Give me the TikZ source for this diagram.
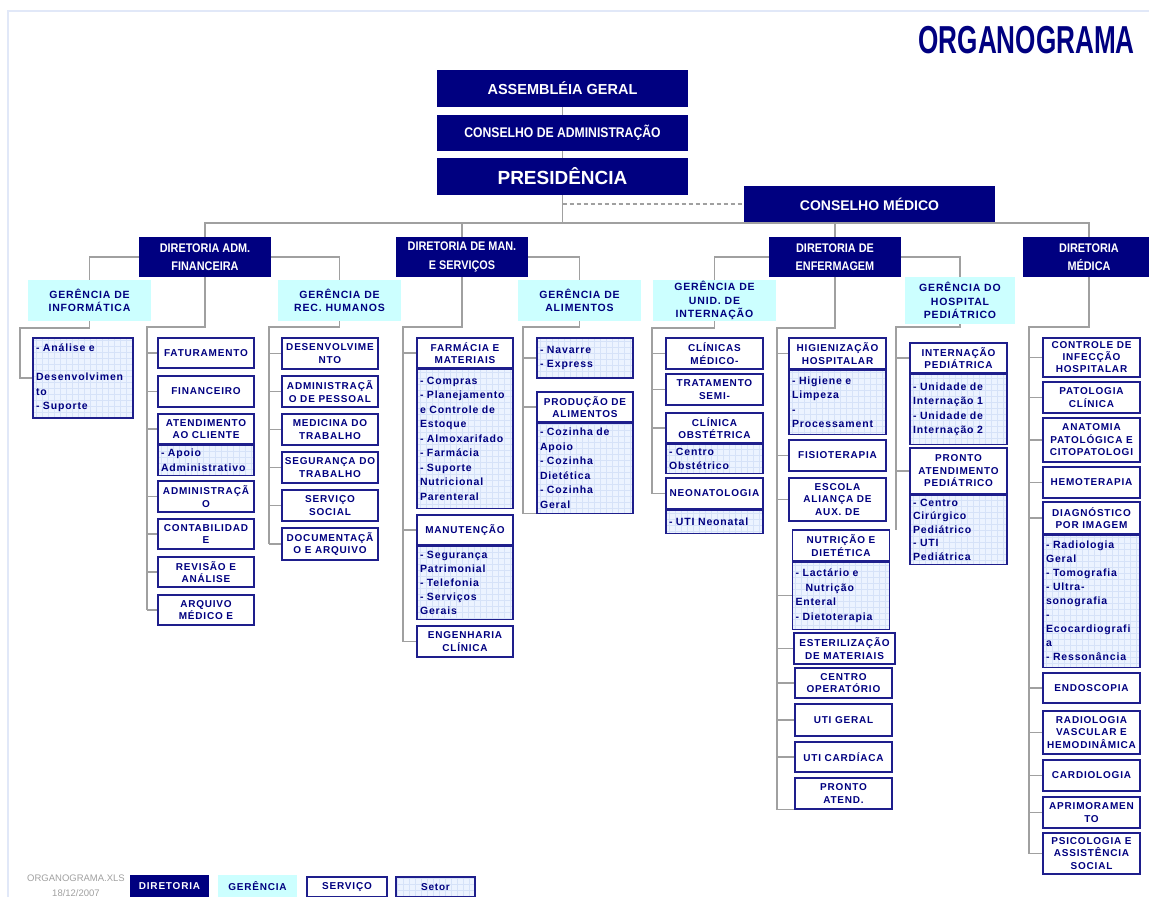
\documentclass[tikz,border=0pt]{standalone}
\usepackage{fontspec}
\usetikzlibrary{positioning}

\newfontfamily\spfont[LetterSpace=8]{Liberation Sans}
\newfontfamily\nrfont[FakeStretch=0.87]{Liberation Sans}
\newfontfamily\ttlfont[FakeStretch=0.67]{Liberation Sans}
\newfontfamily\lsfont{Liberation Sans}

\definecolor{navyc}{RGB}{0,0,128}
\definecolor{bordc}{RGB}{30,30,140}
\definecolor{gerc}{RGB}{204,255,255}
\definecolor{setc}{RGB}{236,243,255}
\definecolor{gridc}{RGB}{214,226,248}
\definecolor{connc}{RGB}{160,160,160}
\definecolor{framec}{RGB}{225,232,248}

\begin{document}
\begin{tikzpicture}[x=1pt, y=-1pt,
    node distance=0pt,
    conn/.style = {draw=connc, line width=1.3pt},
    topbox/.style = {rectangle, fill=navyc, text=white, minimum width=251, minimum height=37, inner sep=2pt},
    dirbox/.style = {rectangle, fill=navyc, text=white, align=center, minimum width=132, minimum height=40, inner sep=1pt, font=\nrfont\bfseries\fontsize{12.5}{18.5}\selectfont},
    gerbox/.style = {rectangle, fill=gerc, text=navyc, align=center, minimum width=123, minimum height=41, inner sep=1pt, font=\spfont\bfseries\fontsize{10.5}{13.5}\selectfont},
    svc/.style = {rectangle, draw=bordc, line width=1.2pt, fill=white, text=navyc, align=center, inner sep=2pt, minimum height=31, font=\spfont\bfseries\fontsize{10}{12.5}\selectfont},
    setor/.style = {rectangle, draw=bordc, line width=1.2pt, fill=setc, text=navyc, align=left, inner sep=3pt, font=\spfont\bfseries\fontsize{10.5}{14.5}\selectfont,
        path picture={\draw[gridc, line width=0.3pt, step=6pt] (path picture bounding box.south west) grid (path picture bounding box.north east);}},
    w/.style = {minimum width=#1}]

    \useasboundingbox (0,0) rectangle (1149,897);
    \draw[framec, line width=1.5pt] (8,897) -- (8,11) -- (1149,11);

    \node[anchor=east, text=navyc, inner sep=0pt, font=\ttlfont\bfseries\fontsize{39}{39}\selectfont] (title) at (1135,40) {ORGANOGRAMA};

    % topo
    \node[topbox, font=\lsfont\bfseries\fontsize{14.5}{16}\selectfont] (ag) at (562.5,88.5) {ASSEMBLÉIA GERAL};
    \node[topbox, minimum height=36, font=\nrfont\bfseries\fontsize{14}{16}\selectfont] (ca) at (562.5,133) {CONSELHO DE ADMINISTRAÇÃO};
    \node[topbox, font=\lsfont\bfseries\fontsize{19}{21}\selectfont] (pres) at (562.5,176.5) {PRESIDÊNCIA};
    \node[topbox, minimum height=36, font=\lsfont\bfseries\fontsize{14}{16}\selectfont] (cm) at (869.5,204) {CONSELHO MÉDICO};
    \coordinate (bus) at (0,223);

    % diretorias
    \node[dirbox] (dadm) at (205,257) {DIRETORIA ADM.\\FINANCEIRA};
    \node[dirbox] (dman) at (462,257) {DIRETORIA DE MAN.\\E SERVIÇOS};
    \node[dirbox] (denf) at (835,257) {DIRETORIA DE\\ENFERMAGEM};
    \node[dirbox] (dmed) at (1089,257) {DIRETORIA\\MÉDICA};

    % gerencias
    \node[gerbox] (ginf) at (89.5,300.5) {GERÊNCIA DE\\INFORMÁTICA};
    \node[gerbox] (grh) at (339.5,300.5) {GERÊNCIA DE\\REC. HUMANOS};
    \node[gerbox] (gali) at (579.5,300.5) {GERÊNCIA DE\\ALIMENTOS};
    \node[gerbox] (gint) at (714.5,300.5) {GERÊNCIA DE\\UNID. DE\\INTERNAÇÃO};
    \node[gerbox, minimum width=110, minimum height=47] (gped) at (960,300.5) {GERÊNCIA DO\\HOSPITAL\\PEDIÁTRICO};

    % informatica
    \node[setor, text width=94, minimum height=80] (ana) at (83,378) {- Análise e\\[14.5pt]Desenvolvimen\\to\\- Suporte};

    % adm. financeira
    \node[svc, w=96, minimum height=30] (fat) at (206,353) {FATURAMENTO};
    \node[svc, w=96] (fin) at (206,391.5) {FINANCEIRO};
    \node[svc, w=96, minimum height=30] (ate) at (206,429) {ATENDIMENTO\\AO CLIENTE};
    \node[setor, text width=90, minimum height=30, below=of ate] (ates) {- Apoio\\Administrativo};
    \node[svc, w=96] (adm) at (206,496.5) {ADMINISTRAÇÃ\\O};
    \node[svc, w=96, minimum height=30] (con) at (206,534) {CONTABILIDAD\\E};
    \node[svc, w=96, minimum height=30] (rev) at (206,572) {REVISÃO E\\ANÁLISE};
    \node[svc, w=96, minimum height=30] (arq) at (206,610) {ARQUIVO\\MÉDICO E};

    % rec. humanos
    \node[svc, w=96] (des) at (330,353.5) {DESENVOLVIME\\NTO};
    \node[svc, w=96] (adp) at (330,391.5) {ADMINISTRAÇÃ\\O DE PESSOAL};
    \node[svc, w=96] (med) at (330,429.5) {MEDICINA DO\\TRABALHO};
    \node[svc, w=96] (seg) at (330,467.5) {SEGURANÇA DO\\TRABALHO};
    \node[svc, w=96] (soc) at (330,505.5) {SERVIÇO\\SOCIAL};
    \node[svc, w=96, minimum height=32] (doc) at (330,544) {DOCUMENTAÇÃ\\O E ARQUIVO};

    % man. e servicos
    \node[svc, w=96, minimum height=30] (far) at (465,353) {FARMÁCIA E\\MATERIAIS};
    \node[setor, text width=90, minimum height=139, below=of far] (fars) {- Compras\\- Planejamento\\e Controle de\\Estoque\\- Almoxarifado\\- Farmácia\\- Suporte\\Nutricional\\Parenteral};
    \node[svc, w=96, minimum height=30] (mnt) at (465,530) {MANUTENÇÃO};
    \node[setor, text width=90, minimum height=73, below=of mnt, font=\spfont\bfseries\fontsize{10.5}{14}\selectfont] (mnts) {- Segurança\\Patrimonial\\- Telefonia\\- Serviços\\Gerais};
    \node[svc, w=96] (eng) at (465,641.5) {ENGENHARIA\\CLÍNICA};

    % alimentos
    \node[setor, text width=90, minimum height=40] (nav) at (585,358) {- Navarre\\- Express};
    \node[svc, w=96, minimum height=30] (pro) at (585,407) {PRODUÇÃO DE\\ALIMENTOS};
    \node[setor, text width=90, minimum height=90, below=of pro] (pros) {- Cozinha de\\Apoio\\- Cozinha\\Dietética\\- Cozinha\\Geral};

    % unid. de internacao
    \node[svc, w=97] (cli) at (714.5,353.5) {CLÍNICAS\\MÉDICO-};
    \node[svc, w=97] (tsi) at (714.5,389.5) {TRATAMENTO\\SEMI-};
    \node[svc, w=97, minimum height=30] (obs) at (714.5,428) {CLÍNICA\\OBSTÉTRICA};
    \node[setor, text width=91, minimum height=29, below=of obs] (obss) {- Centro\\Obstétrico};
    \node[svc, w=97] (neo) at (714.5,493.5) {NEONATOLOGIA};
    \node[setor, text width=91, minimum height=23, below=of neo] (neos) {- UTI Neonatal};

    % enfermagem
    \node[svc, w=97] (hig) at (837.5,353.5) {HIGIENIZAÇÃO\\HOSPITALAR};
    \node[setor, text width=91, minimum height=64, below=of hig] (higs) {- Higiene e\\Limpeza\\-\\Processament};
    \node[svc, w=97] (fis) at (837.5,455.5) {FISIOTERAPIA};
    \node[svc, w=97, minimum height=43] (esc) at (837.5,499.5) {ESCOLA\\ALIANÇA DE\\AUX. DE};
    \node[svc, w=97] (nut) at (841,545.5) {NUTRIÇÃO E\\DIETÉTICA};
    \node[setor, text width=91, minimum height=67, below=of nut] (nuts) {- Lactário e\\\hspace*{10pt}Nutrição\\Enteral\\- Dietoterapia};
    \node[svc, w=101] (est) at (844.5,648.5) {ESTERILIZAÇÃO\\DE MATERIAIS};
    \node[svc, w=97, minimum height=30] (cop) at (843.5,683) {CENTRO\\OPERATÓRIO};
    \node[svc, w=97, minimum height=32] (ugr) at (843.5,720) {UTI GERAL};
    \node[svc, w=97, minimum height=30] (ucd) at (843.5,757) {UTI CARDÍACA};
    \node[svc, w=97] (pat) at (843.5,793.5) {PRONTO\\ATEND.};

    % hospital pediatrico
    \node[svc, w=97, minimum height=30] (ipd) at (958.5,358) {INTERNAÇÃO\\PEDIÁTRICA};
    \node[setor, text width=91, minimum height=70, below=of ipd] (ipds) {- Unidade de\\Internação 1\\- Unidade de\\Internação 2};
    \node[svc, w=97, minimum height=46] (ppd) at (958.5,471) {PRONTO\\ATENDIMENTO\\PEDIÁTRICO};
    \node[setor, text width=91, minimum height=69, below=of ppd, font=\spfont\bfseries\fontsize{10.5}{13.5}\selectfont] (ppds) {- Centro\\Cirúrgico\\Pediátrico\\- UTI\\Pediátrica};

    % diretoria medica
    \node[svc, w=97, minimum height=39, font=\spfont\bfseries\fontsize{10}{12}\selectfont] (cih) at (1091.5,357.5) {CONTROLE DE\\INFECÇÃO\\HOSPITALAR};
    \node[svc, w=97] (pcl) at (1091.5,397.5) {PATOLOGIA\\CLÍNICA};
    \node[svc, w=97, minimum height=44] (apc) at (1091.5,440) {ANATOMIA\\PATOLÓGICA E\\CITOPATOLOGI};
    \node[svc, w=97] (hem) at (1091.5,482.5) {HEMOTERAPIA};
    \node[svc, w=97, minimum height=32] (dim) at (1091.5,518) {DIAGNÓSTICO\\POR IMAGEM};
    \node[setor, text width=91, minimum height=132, below=of dim, font=\spfont\bfseries\fontsize{10.5}{14}\selectfont] (dims) {- Radiologia\\Geral\\- Tomografia\\- Ultra-\\sonografia\\-\\Ecocardiografi\\a\\- Ressonância};
    \node[svc, w=97, minimum height=30] (endo) at (1091.5,688) {ENDOSCOPIA};
    \node[svc, w=97, minimum height=43] (rvh) at (1091.5,732.5) {RADIOLOGIA\\VASCULAR E\\HEMODINÂMICA};
    \node[svc, w=97] (car) at (1091.5,775.5) {CARDIOLOGIA};
    \node[svc, w=97] (apr) at (1091.5,812.5) {APRIMORAMEN\\TO};
    \node[svc, w=97, minimum height=41] (psi) at (1091.5,853.5) {PSICOLOGIA E\\ASSISTÊNCIA\\SOCIAL};

    % legenda
    \node[text=connc, font=\lsfont\fontsize{9.5}{11}\selectfont] (arq1) at (76,878) {ORGANOGRAMA.XLS};
    \node[text=connc, font=\lsfont\fontsize{9.5}{11}\selectfont] (arq2) at (76,893) {18/12/2007};
    \node[dirbox, minimum width=79, minimum height=22, font=\spfont\bfseries\fontsize{10}{12}\selectfont] (ldir) at (169.5,886) {DIRETORIA};
    \node[gerbox, minimum width=79, minimum height=22, font=\spfont\bfseries\fontsize{10}{12}\selectfont] (lger) at (257.5,886) {GERÊNCIA};
    \node[svc, w=80, minimum height=20, font=\spfont\bfseries\fontsize{10}{12}\selectfont] (lsvc) at (347,887) {SERVIÇO};
    \node[setor, minimum width=79, minimum height=20, align=center, font=\spfont\bfseries\fontsize{10}{12}\selectfont] (lset) at (435.5,887) {Setor};

    % ligacoes
    \draw[conn] (ag) -- (ca);
    \draw[conn] (ca) -- (pres);
    \draw[conn] (pres.south) -- (pres.south |- bus);
    \draw[conn, dash pattern=on 4pt off 3pt] (pres.south |- cm.west) -- (cm.west);
    \draw[conn] (dadm.north) -- (dadm.north |- bus) -- (dmed.north |- bus) -- (dmed.north);
    \draw[conn] (dman.north) -- (dman.north |- bus);
    \draw[conn] (denf.north) -- (denf.north |- bus);

    \draw[conn] (dadm.west) -| (ginf.north);
    \draw[conn] (dadm.east) -| (grh.north);
    \draw[conn] (dman.east) -| (gali.north);
    \draw[conn] (denf.west) -| (gint.north);
    \draw[conn] (denf.east) -| (gped.north);

    \coordinate (sinf) at (20,328);
    \draw[conn] (ginf.south) |- (sinf) |- (ana.west);

    \coordinate (sadm) at (147,327);
    \draw[conn] (dadm.south) |- (sadm) -- (sadm |- arq.west);
    \foreach \n in {fat,fin,ate,adm,con,rev,arq}
        \draw[conn] (sadm |- \n.west) -- (\n.west);

    \coordinate (srh) at (269,327);
    \draw[conn] (grh.south) |- (srh) -- (srh |- doc.west);
    \foreach \n in {des,adp,med,seg,soc,doc}
        \draw[conn] (srh |- \n.west) -- (\n.west);

    \coordinate (sman) at (403,327);
    \draw[conn] (dman.south) |- (sman) -- (sman |- eng.west);
    \foreach \n in {far,mnt,eng}
        \draw[conn] (sman |- \n.west) -- (\n.west);

    \coordinate (sali) at (523,327);
    \draw[conn] (gali.south) |- (sali) -- (sali |- pros.south) -- (pros.south west);
    \foreach \n in {nav,pro}
        \draw[conn] (sali |- \n.west) -- (\n.west);

    \coordinate (sint) at (652,328);
    \draw[conn] (gint.south) |- (sint) -- (sint |- neo.west);
    \foreach \n in {cli,tsi,obs,neo}
        \draw[conn] (sint |- \n.west) -- (\n.west);

    \coordinate (senf) at (777,328);
    \draw[conn] (denf.south) |- (senf) -- (senf |- pat.south) -- (pat.south west);
    \foreach \n in {hig,fis,esc,nuts,est,cop,ugr,ucd}
        \draw[conn] (senf |- \n.west) -- (\n.west);

    \coordinate (sped) at (896,327);
    \draw[conn] (gped.south) |- (sped) -- (sped |- ppds.west);
    \foreach \n in {ipd,ppd}
        \draw[conn] (sped |- \n.west) -- (\n.west);

    \coordinate (smed) at (1029,327);
    \draw[conn] (dmed.south) |- (smed) -- (smed |- psi.west);
    \foreach \n in {cih,pcl,apc,hem,dim,endo,rvh,car,apr,psi}
        \draw[conn] (smed |- \n.west) -- (\n.west);
\end{tikzpicture}
\end{document}
